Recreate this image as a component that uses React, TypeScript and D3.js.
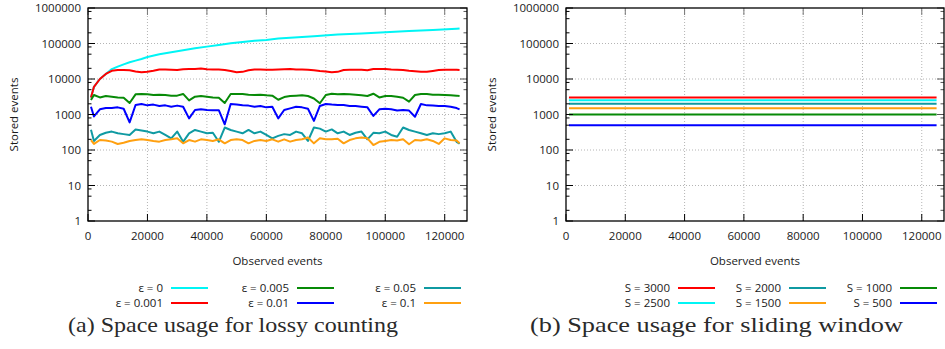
import React, { useRef, useEffect } from 'react';
import * as d3 from 'd3';

// sample positions (observed events) of the lossy counting runs
const sampleX = [1000, ...d3.range(2000, 124001, 2000), 125000];

const cyanX = [1000, 2000, 4000, 6000, 8000, 10000, 12000, 14000, 16000, 18000, 20000, 24000, 28000, 32000, 36000, 40000,
  44000, 48000, 52000, 56000, 60000, 64000, 68000, 76000, 84000, 92000, 100000, 108000, 116000, 124000, 125000];
const eps0 = [3000, 6000, 10000, 13900, 19000, 22300, 25900, 29500, 32900, 36600, 41700, 49700, 56700, 64300, 73100, 81700,
  90800, 101000, 110000, 120000, 126000, 138000, 146000, 160000, 178000, 190000, 206000, 225000, 240000, 262000, 266000];

const eps0001 = [3000, 6000, 10000, 13900, 17000, 17900, 17900, 17600, 16300, 15500, 15900, 17000, 18500, 18500, 18200, 17900,
  18900, 19200, 19200, 19700, 18900, 18500, 18500, 17900, 16800, 15500, 15900, 17600, 18500, 18500, 18200, 18200,
  18500, 18900, 19200, 18500, 18500, 18200, 17600, 16800, 16300, 15500, 15900, 17900, 18200, 18200, 18200, 17600,
  19200, 19200, 19200, 18500, 18200, 17900, 17000, 16500, 15900, 15900, 16800, 17900, 18200, 18200, 18200, 17900];

const eps0005 = [2550, 3550, 3030, 3320, 3180, 3030, 2960, 2100, 3700, 3780, 3700, 3550, 3620, 3550, 3400, 3400,
  3800, 2500, 3180, 3320, 3180, 3030, 2960, 2100, 3780, 3780, 3780, 3620, 3550, 3620, 3470, 3400,
  2600, 3100, 3320, 3400, 3470, 3320, 2830, 2070, 3550, 3850, 3700, 3780, 3700, 3620, 3470, 3320,
  3850, 3030, 3320, 3320, 3180, 2960, 2300, 3550, 3780, 3780, 3620, 3620, 3550, 3470, 3400, 3320];

const eps001 = [1660, 880, 1400, 1520, 1520, 1590, 1450, 600, 1850, 1980, 1810, 1900, 1740, 1810, 1660, 1780,
  1660, 780, 1340, 1400, 1340, 1320, 1320, 530, 1980, 1900, 1810, 1780, 1660, 1740, 1590, 1660,
  780, 1340, 1490, 1660, 1590, 1450, 660, 1740, 1980, 1900, 1850, 1850, 1740, 1740, 1660, 1590,
  910, 1400, 1450, 1400, 1290, 1340, 1290, 865, 1980, 1810, 1780, 1740, 1740, 1660, 1520, 1400];

const eps005 = [370, 180, 265, 305, 330, 295, 280, 265, 380, 355, 330, 295, 330, 265, 212, 330,
  170, 295, 366, 330, 295, 305, 170, 430, 366, 330, 295, 366, 295, 330, 265, 212,
  250, 280, 265, 330, 295, 180, 430, 400, 330, 380, 295, 330, 265, 305, 330, 200,
  305, 295, 330, 265, 237, 430, 366, 330, 295, 265, 295, 280, 295, 330, 170, 150];

const eps01 = [191, 148, 191, 184, 172, 148, 160, 180, 191, 200, 191, 180, 172, 191, 200, 213,
  154, 191, 172, 200, 191, 180, 200, 154, 191, 200, 191, 154, 180, 191, 180, 200,
  172, 200, 172, 191, 200, 225, 154, 213, 200, 200, 208, 154, 191, 213, 225, 213,
  138, 170, 180, 191, 184, 200, 145, 191, 184, 200, 180, 148, 213, 191, 184, 154];

// sliding window: constant sizes
const windowX = [1000, 125000];
const windowSizes = [3000, 2500, 2000, 1500, 1000, 500];

const yTicks = [1, 10, 100, 1000, 10000, 100000, 1000000];
const yMinor = [2, 5, 8, 20, 50, 80, 200, 500, 800, 2000, 5000, 8000, 20000, 50000, 80000, 200000, 500000, 800000];
const xTicks = [0, 20000, 40000, 60000, 80000, 100000, 120000];

const lossySeries = [
  { label: 'ε = 0', color: '#00f5f5', xs: cyanX, ys: eps0 },
  { label: 'ε = 0.001', color: '#ff0000', xs: sampleX, ys: eps0001 },
  { label: 'ε = 0.005', color: '#078a07', xs: sampleX, ys: eps0005 },
  { label: 'ε = 0.01', color: '#0000ff', xs: sampleX, ys: eps001 },
  { label: 'ε = 0.05', color: '#0f9aa2', xs: sampleX, ys: eps005 },
  { label: 'ε = 0.1', color: '#ffa010', xs: sampleX, ys: eps01 },
];
const windowColors = ['#ff0000', '#00f5f5', '#0f9aa2', '#ffa010', '#078a07', '#0000ff'];
const windowSeries = windowSizes.map((s, i) => ({
  label: 'S = ' + s, color: windowColors[i], xs: windowX, ys: windowX.map(() => s),
}));

const FONT = '"Open Sans", sans-serif';

function drawPanel(svg: any, left: number, right: number, series: any[], legend: any, caption: any) {
  const top = 8, bottom = 221;
  const x = d3.scaleLinear().domain([0, 127500]).range([left, right]);
  const y = d3.scaleLog().domain([1, 1000000]).range([bottom, top]);
  const g = svg.append('g');

  // grid
  g.selectAll('.gx').data(xTicks.slice(1)).enter().append('line')
    .attr('x1', (d: number) => x(d)).attr('x2', (d: number) => x(d))
    .attr('y1', bottom).attr('y2', top)
    .attr('stroke', '#b4b4b4').attr('stroke-dasharray', '1,2');
  g.selectAll('.gy').data(yTicks.slice(1, -1)).enter().append('line')
    .attr('x1', left).attr('x2', right)
    .attr('y1', (d: number) => y(d)).attr('y2', (d: number) => y(d))
    .attr('stroke', '#b4b4b4').attr('stroke-dasharray', '1,2');

  // lines
  const line = d3.line<number[]>().x(d => x(d[0])).y(d => y(d[1]));
  series.forEach(s => {
    g.append('path')
      .datum(s.xs.map((v: number, i: number) => [v, s.ys[i]]))
      .attr('d', line)
      .attr('fill', 'none')
      .attr('stroke', s.color)
      .attr('stroke-width', 2)
      .attr('stroke-linejoin', 'round');
  });

  // ticks (mirrored on top and right)
  const tk = g.append('g').attr('stroke', '#000').attr('stroke-width', 1);
  xTicks.forEach(t => {
    tk.append('line').attr('x1', x(t)).attr('x2', x(t)).attr('y1', bottom).attr('y2', bottom - 7);
    tk.append('line').attr('x1', x(t)).attr('x2', x(t)).attr('y1', top).attr('y2', top + 7).attr('stroke', '#777');
  });
  yTicks.forEach(t => {
    tk.append('line').attr('x1', left).attr('x2', left + 7).attr('y1', y(t)).attr('y2', y(t));
    tk.append('line').attr('x1', right).attr('x2', right - 7).attr('y1', y(t)).attr('y2', y(t)).attr('stroke', '#555');
  });
  yMinor.forEach(t => {
    tk.append('line').attr('x1', left).attr('x2', left + 3.5).attr('y1', y(t)).attr('y2', y(t));
    tk.append('line').attr('x1', right).attr('x2', right - 3.5).attr('y1', y(t)).attr('y2', y(t)).attr('stroke', '#555');
  });

  // border
  g.append('rect').attr('x', left).attr('y', top).attr('width', right - left).attr('height', bottom - top)
    .attr('fill', 'none').attr('stroke', '#000').attr('stroke-width', 1.3);

  // labels
  const lab = g.append('g').attr('font-family', FONT).attr('font-size', 11.5).attr('fill', '#1a1a1a');
  xTicks.forEach(t => {
    lab.append('text').attr('x', x(t)).attr('y', 240).attr('text-anchor', 'middle').text(String(t));
  });
  yTicks.forEach(t => {
    lab.append('text').attr('x', left - 7).attr('y', y(t)).attr('dy', '0.35em').attr('text-anchor', 'end').text(String(t));
  });
  lab.append('text').attr('x', (left + right) / 2).attr('y', 265).attr('text-anchor', 'middle').text('Observed events');
  lab.append('text').attr('transform', `translate(${left - 74},${(top + bottom) / 2}) rotate(-90)`)
    .attr('text-anchor', 'middle').attr('dy', '0.35em').text('Stored events');

  // legend, column-major, two rows
  const rows = [288, 303];
  series.forEach((s, i) => {
    const c = Math.floor(i / 2), r = i % 2;
    const tx = legend.textEnd[c];
    lab.append('text').attr('x', tx).attr('y', rows[r]).attr('dy', '0.35em').attr('text-anchor', 'end').text(s.label);
    g.append('line').attr('x1', tx + 8).attr('x2', tx + 45).attr('y1', rows[r]).attr('y2', rows[r])
      .attr('stroke', s.color).attr('stroke-width', 2);
  });

  svg.append('text').attr('x', caption.x).attr('y', 332)
    .attr('font-family', '"Liberation Serif", serif').attr('font-size', 21).attr('fill', '#2a2a2a')
    .attr('textLength', caption.w).attr('lengthAdjust', 'spacingAndGlyphs')
    .text(caption.text);
}

export default function App() {
  const ref = useRef<SVGSVGElement>(null);
  useEffect(() => {
    const svg = d3.select(ref.current);
    svg.selectAll('*').remove();
    drawPanel(svg, 88, 467, lossySeries, { textEnd: [163, 289, 416] },
      { x: 68, w: 330, text: '(a) Space usage for lossy counting' });
    drawPanel(svg, 566, 944, windowSeries, { textEnd: [670, 781, 892] },
      { x: 530, w: 373, text: '(b) Space usage for sliding window' });
  }, []);
  return (
    <svg ref={ref} width={945} height={349}
      style={{ position: 'absolute', left: 0, top: 0, background: '#fff' }} />
  );
}
